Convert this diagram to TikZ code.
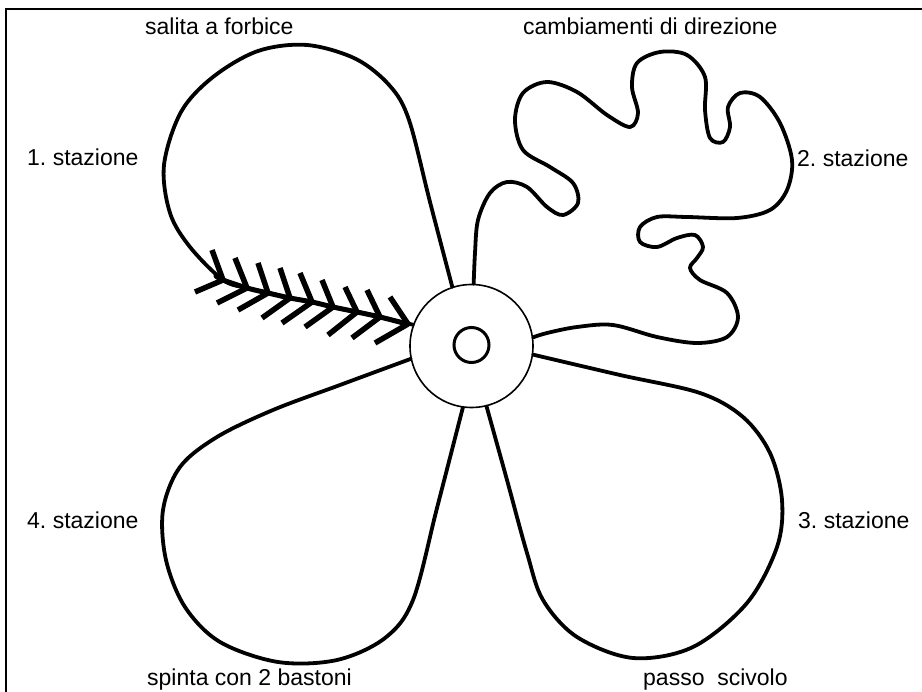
\documentclass[tikz,border=0pt]{standalone}
\usepackage{fontspec}
\setmainfont{Liberation Sans}
\begin{document}
\begin{tikzpicture}[x=1pt,y=-1pt,
  loopline/.style={line width=3.8pt, line join=round, line cap=round},
  barb/.style={line width=5.5pt, line cap=butt},
  lbl/.style={anchor=base west, inner sep=0pt, font=\fontsize{23}{26}\selectfont}]
\useasboundingbox (0,0) rectangle (922,692);
% frame
\draw[line width=2pt] (922,9) -- (6,9) -- (6,692);
% hub
\node[circle, draw, line width=1.6pt, minimum size=123pt, inner sep=0pt] (hub) at (471.5,346) {};
\node[circle, draw, line width=3pt, minimum size=35pt, inner sep=0pt] (core) at (471.5,345) {};
% loop 1 : salita a forbice with herringbone
\draw[loopline] plot[smooth, tension=0.55] coordinates {(hub.108) (430,202) (409,120) (390,86) (356,59) (307,45) (258,51) (213,77) (181,112) (164,165) (170,213) (190,247) (223,280) (247,288) (268,293) (290,298) (312,302) (333,307) (357,312) (380,317) (hub.160)};
\draw[line width=5pt, line cap=round] plot[smooth, tension=0.55] coordinates {(216,276) (223,280) (247,288) (268,293) (290,298) (312,302) (333,307) (357,312) (380,317) (407,324)};
\foreach \vx/\vy/\ux/\uy/\lx/\ly in {223/280/212/250/195/292, 247/288/235/258/217/303, 268/293/258/263/238/310, 290/298/280/268/262/318, 312/302/300/273/282/323, 333/307/322/280/305/327, 357/312/345/287/328/335, 380/317/367/290/352/338, 408/324/390/297/375/343}{
  \draw[barb] (\vx,\vy) -- (\ux,\uy);
  \draw[barb] (\vx,\vy) -- (\lx,\ly);
}
% loop 2 : cambiamenti di direzione
\draw[loopline] plot[smooth, tension=0.55] coordinates {(hub.88) (475,253) (478,220) (490,193) (507,182) (527,187) (547,207) (563,215) (578,203) (573,183) (550,167) (523,150) (515,120) (523,93) (547,82) (577,92) (607,115) (630,127) (638,113) (632,87) (637,63) (660,52) (687,55) (705,77) (705,110) (710,138) (723,142) (730,127) (728,107) (740,93) (760,97) (780,123) (792,160) (787,190) (770,210) (737,218) (687,217) (657,217) (640,227) (640,242) (657,247) (677,238) (695,235) (703,247) (697,258) (690,268) (700,280) (727,293) (738,317) (727,337) (697,343) (657,337) (613,325) (577,327) (547,333) (hub.8)};
% loop 3 : passo scivolo
\draw[loopline] plot[smooth, tension=0.55] coordinates {(hub.-8) (620,375) (700,393) (743,417) (770,453) (782,500) (777,547) (747,603) (693,647) (633,658) (577,637) (543,600) (527,553) (507,480) (hub.-76)};
% loop 4 : spinta con 2 bastoni
\draw[loopline] plot[smooth, tension=0.55] coordinates {(hub.192) (340,385) (273,410) (217,437) (180,467) (163,510) (166,560) (185,607) (220,642) (278,662) (337,660) (385,638) (413,600) (437,508) (hub.-98)};
% labels
\node[lbl] (t1) at (145,35) {salita a forbice};
\node[lbl] (t2) at (523,35) {cambiamenti\ di\ direzione};
\node[lbl] (s1) at (27,166) {1.\ stazione};
\node[lbl] (s2) at (797,167) {2.\ stazione};
\node[lbl] (s3) at (798,529) {3.\ stazione};
\node[lbl] (s4) at (27,529) {4.\ stazione};
\node[lbl] (t4) at (147,685) {spinta con 2 bastoni};
\node[lbl] (t3) at (643,685) {passo\ \ scivolo};
\end{tikzpicture}
\end{document}
